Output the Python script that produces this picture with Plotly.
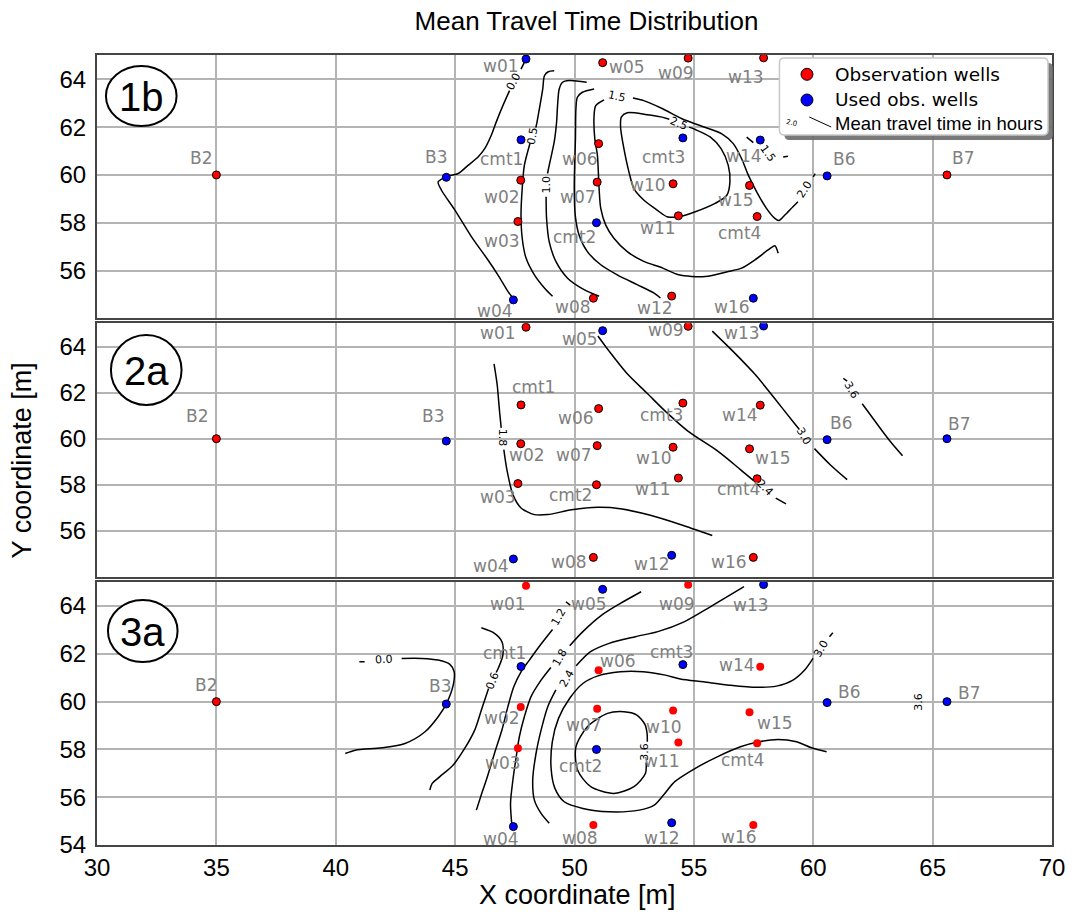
import plotly.graph_objects as go
from plotly.subplots import make_subplots

# ---------------------------------------------------------------- wells
well_names = ["B2", "B3", "B6", "B7",
              "w01", "w02", "w03", "w04", "w05", "w06", "w07", "w08",
              "w09", "w10", "w11", "w12", "w13", "w14", "w15", "w16",
              "cmt1", "cmt2", "cmt3", "cmt4"]
well_x = [35.00, 44.63, 60.58, 65.60,
          47.97, 47.75, 47.63, 47.44, 51.18, 51.01, 50.95, 50.79,
          54.76, 54.13, 54.35, 54.07, 57.92, 57.78, 57.33, 57.49,
          47.76, 50.92, 54.54, 57.65]
well_y = [60.00, 59.90, 59.96, 60.00,
          64.85, 59.78, 58.05, 54.77, 64.70, 61.31, 59.70, 54.84,
          64.89, 59.63, 58.29, 54.93, 64.90, 61.46, 59.56, 54.84,
          61.47, 58.00, 61.55, 58.26]

# wells used in each scenario (the rest are plain observation wells)
used_1b = ["B3", "B6", "w01", "w04", "w14", "w16", "cmt1", "cmt2", "cmt3"]
used_2a = ["B3", "B6", "B7", "w04", "w05", "w12", "w13"]
used_3a = ["B3", "B6", "B7", "w04", "w05", "w12", "w13", "cmt1", "cmt2", "cmt3"]

# ------------------------------------------- mean travel time isolines
# points (x, y); None marks the gap left for an inline label
iso_1b_00 = [(47.90, 64.71), (47.76, 64.43), None, (47.28, 63.53), (47.00, 62.90),
             (46.72, 62.21), (46.51, 61.65), (46.24, 61.10), (45.96, 60.75), (45.54, 60.40),
             (45.13, 60.06), (44.71, 59.95), (44.29, 59.71), (44.43, 59.36), (44.99, 58.53),
             (45.68, 57.42), (46.37, 56.45), (46.79, 55.82), (47.21, 55.13), (47.42, 54.85)]
iso_1b_05 = [(49.15, 64.36), (48.90, 64.32), (48.74, 64.15), (48.67, 63.60), (48.53, 62.77),
             (48.43, 62.21), (48.38, 61.98), None, (48.14, 61.34), (47.90, 60.40),
             (47.81, 59.43), (47.76, 58.32), (47.81, 57.35), (47.97, 56.52), (48.32, 55.82),
             (48.74, 55.27), (49.08, 54.92)]
iso_1b_10 = [(50.51, 63.88), (49.78, 63.95), (49.50, 63.88), (49.36, 63.60), (49.29, 62.90),
             (49.25, 62.21), (49.15, 61.38), (48.94, 60.40), (48.87, 60.06), None,
             (48.81, 59.09), (48.83, 58.18), (48.94, 57.21), (49.22, 56.38), (49.71, 55.68),
             (50.40, 55.20), (51.03, 54.92)]
iso_1b_15a = [(50.82, 63.60), (50.33, 63.46), (50.12, 63.25), (50.06, 62.77), (50.04, 61.52),
              (50.01, 60.54), (49.99, 59.43), (50.03, 58.32), (50.19, 57.49), (50.54, 56.79),
              (51.10, 56.24), (51.79, 55.82), (52.62, 55.41), (53.32, 55.06), (53.60, 54.85)]
iso_1b_15b = [(51.24, 63.14), (50.89, 62.90), (50.82, 62.49), (50.85, 61.52), (50.96, 60.82),
              (51.03, 59.43), (51.10, 58.60), (51.31, 57.90), (51.65, 57.35), (52.21, 56.79),
              (52.90, 56.38), (53.70, 56.10), (54.36, 55.82), (55.47, 55.75), (56.44, 55.96),
              (57.00, 56.10), (57.56, 56.45), (58.11, 56.86), (58.39, 57.04), (58.53, 56.72),
              None,
              (52.45, 63.22), (52.90, 63.11), (53.67, 62.78), (54.50, 62.35), (55.33, 62.04),
              (56.17, 61.72), (56.65, 61.31), (57.00, 60.68), (57.28, 59.99), (57.63, 59.29),
              (58.04, 58.60), (58.39, 58.18), (58.56, 58.09), (58.81, 58.32), (59.15, 58.67),
              (59.36, 58.88), None, (60.00, 59.92), (60.08, 60.06)]
iso_1b_25 = [(53.67, 62.42), (53.04, 62.52), (52.21, 62.60), (51.96, 62.42), (51.93, 62.00),
             (52.07, 61.10), (52.28, 60.13), (52.49, 59.43), (52.90, 58.95), (53.46, 58.53),
             (53.88, 58.25), (54.36, 58.25), (55.06, 58.46), (55.89, 58.81), (56.38, 59.15),
             (56.51, 59.71), (56.44, 60.40), (56.14, 61.10), (55.68, 61.59), (55.06, 61.90),
             (54.80, 62.00), None, (53.97, 62.33), (53.67, 62.42)]
iso_1b_frag = [(57.21, 61.58), (57.49, 61.35), None, (58.74, 60.75), (58.94, 60.78)]

iso_2a_18 = [(46.63, 63.26), (46.76, 62.36), (46.86, 61.20), (46.93, 60.47), None,
             (47.04, 59.53), (47.18, 58.59), (47.42, 57.57), (47.76, 56.99), (48.32, 56.70),
             (48.88, 56.70), (49.88, 56.91), (50.98, 57.02), (51.92, 56.96), (53.18, 56.67),
             (54.43, 56.27), (55.77, 55.79)]
iso_2a_24 = [(50.98, 64.47), (51.45, 63.81), (52.24, 62.79), (53.02, 62.00), (53.80, 61.20),
             (54.75, 60.33), (56.00, 59.46), (56.95, 58.66), (57.49, 58.19), None,
             (58.43, 57.42), (58.86, 57.17)]
iso_2a_30 = [(55.77, 64.68), (56.63, 63.81), (57.57, 62.79), (58.36, 61.78), (59.14, 60.76),
             (59.42, 60.40), None, (60.05, 59.57), (60.71, 58.87), (61.42, 58.22)]
iso_2a_36 = [(61.26, 62.62), (61.42, 62.51), None, (62.05, 61.52), (62.59, 60.76),
             (63.22, 59.89), (63.74, 59.26)]

iso_3a_00 = [(40.99, 61.67), (41.21, 61.67), None, (42.76, 61.81), (43.60, 61.81),
             (44.29, 61.74), (44.78, 61.56), (44.96, 61.25), (44.92, 60.69), (44.64, 59.93),
             (44.29, 59.37), (43.74, 58.74), (42.90, 58.25), (41.93, 58.07), (40.82, 57.97),
             (40.40, 57.83)]
iso_3a_06 = [(46.10, 63.09), (46.65, 62.86), (46.96, 62.51), (47.00, 61.95), (46.82, 61.43),
             (46.72, 61.22), None, (46.40, 60.55), (46.10, 59.65), (45.82, 58.81),
             (45.40, 58.04), (44.92, 57.35), (44.36, 56.86), (44.04, 56.58), (43.94, 56.30)]
iso_3a_12 = [(49.64, 64.18), (49.82, 64.04), None, (49.08, 63.02), (48.60, 62.41),
             (48.11, 61.74), (47.76, 61.25), (47.46, 60.63), (47.21, 59.79), (46.96, 58.81),
             (46.65, 57.84), (46.35, 56.86), (46.07, 56.02), (45.89, 55.46)]
iso_3a_18 = [(52.79, 64.60), (51.92, 64.11), (51.14, 63.62), (50.35, 62.93), (49.80, 62.34),
             None, (49.01, 61.43), (48.60, 60.90), (48.18, 60.21), (47.90, 59.37),
             (47.69, 58.53), (47.56, 57.70), (47.42, 56.72), (47.32, 55.74), (47.38, 54.80)]
iso_3a_24 = [(57.10, 64.81), (55.69, 63.97), (54.59, 63.34), (53.49, 62.93), (52.55, 62.72),
             (51.45, 62.44), (50.67, 62.09), (50.07, 61.50), None, (49.22, 60.49),
             (48.88, 59.79), (48.60, 58.81), (48.39, 57.84), (48.25, 56.72), (48.32, 55.88),
             (48.60, 55.32), (48.94, 54.91)]
iso_3a_30 = [(60.68, 62.72), (60.82, 62.88), None, (59.99, 61.81), (59.64, 61.32),
             (59.15, 60.90), (58.46, 60.65), (57.62, 60.60), (56.51, 60.69), (55.40, 60.83),
             (54.43, 60.95), (53.81, 61.11), (52.87, 61.25), (51.92, 61.25), (50.98, 61.08),
             (50.35, 60.76), (49.80, 60.14), (49.33, 59.30), (49.07, 58.32), (49.02, 57.21),
             (49.18, 56.37), (49.57, 55.81), (50.35, 55.53), (51.45, 55.39), (52.71, 55.46),
             (53.34, 55.67), (53.73, 56.09), (54.20, 56.65), (55.06, 57.21), (56.00, 57.70),
             (56.95, 58.11), (57.73, 58.32), (58.52, 58.42), (59.30, 58.32), (59.93, 58.07),
             (60.56, 57.90)]
iso_3a_36 = [(53.00, 57.45), (52.97, 56.99), (52.49, 56.44), (51.65, 56.16), (50.68, 56.44),
             (50.13, 57.14), (50.06, 58.11), (50.54, 58.95), (51.38, 59.51), (52.07, 59.58),
             (52.60, 59.45), (52.95, 59.05), (53.04, 58.67), (53.05, 58.32)]

# inline isoline labels: (text, x, y)
iso_labels_1b = [("0.0", 47.46, 63.90), ("0.5", 48.24, 61.66), ("1.0", 48.83, 59.58),
                 ("1.5", 51.80, 63.30), ("2.5", 54.36, 62.16), ("2.0", 59.64, 59.38),
                 ("1.5", 58.10, 60.90)]
iso_labels_2a = [("1.8", 46.97, 60.04), ("2.4", 57.96, 57.86), ("3.0", 59.61, 60.11),
                 ("3.6", 61.60, 62.08)]
iso_labels_3a = [("0.0", 42.00, 61.77), ("0.6", 46.56, 60.90), ("1.2", 49.36, 63.55),
                 ("1.8", 49.39, 61.85), ("2.4", 49.68, 60.97), ("3.0", 60.33, 62.23),
                 ("3.6", 52.95, 57.90), ("3.6", 64.43, 60.00)]

x_ticks = [30, 35, 40, 45, 50, 55, 60, 65, 70]

# ------------------------------------------------------------ layout aids
# label rotations (degrees, clockwise) for the inline isoline labels
iso_angles_1b = [-62, -80, -90, 12, 22, -58, 55]
iso_angles_2a = [90, 45, 60, 60]
iso_angles_3a = [-3, -70, -60, -60, -60, -60, -90, -90]

# well-name label offsets in pixels (dx right, dy down), in well_names order
lbl_off_1b = [(-15, -17), (-10, -20), (17, -17), (16, -17),
              (-25, 7), (-19, 17), (-16, 19), (-18, 11), (24, 4), (-19, 15), (-19, 15), (-20, 9),
              (-12, 15), (-25, 1), (-20, 12), (-17, 12), (-18, 19), (-16, 16), (-14, 15), (-21, 9),
              (-20, 19), (-22, 14), (-19, 19), (-18, 16)]
lbl_off_2a = [(-19, -23), (-13, -25), (14, -17), (12, -15),
              (-28, 6), (6, 11), (-20, 13), (-22, 7), (-23, 8), (-23, 9), (-23, 9), (-24, 5),
              (-22, 4), (-19, 11), (-25, 11), (-20, 9), (-22, 7), (-20, 10), (23, 9), (-24, 5),
              (12, -18), (-26, 10), (-21, 12), (-19, 10)]
lbl_off_3a = [(-10, -17), (-6, -18), (22, -11), (22, -9),
              (-18, 18), (-19, 11), (-15, 15), (-12, 12), (-14, 15), (19, -9), (-13, 16), (-13, 13),
              (-11, 19), (-9, 17), (-16, 18), (-10, 15), (-13, 20), (-23, -2), (25, 11), (-14, 12),
              (-17, -14), (-16, 17), (-11, -13), (-15, 17)]

RED = "#ff0000"
BLUE = "#0000ff"
GRID = "#b4b4b4"
FRAME = "#454545"
LABEL_GREY = "#808080"
SANS = "Liberation Sans, Arial, sans-serif"
WIDE = "DejaVu Sans, Verdana, sans-serif"

# plot area in pixels: x 97..1057, y 55..845
L, R, T, B = 97, 20, 55, 70
W, H = 1077, 915
PW, PH = W - L - R, H - T - B


def px(v):
    return (v - L) / PW


def py(v):
    return (H - B - v) / PH


fig = make_subplots(rows=3, cols=1, shared_xaxes=True, vertical_spacing=0.01)

panels = [
    (1, used_1b, [iso_1b_00, iso_1b_05, iso_1b_10, iso_1b_15a, iso_1b_15b, iso_1b_25, iso_1b_frag],
     iso_labels_1b, iso_angles_1b, lbl_off_1b, True),
    (2, used_2a, [iso_2a_18, iso_2a_24, iso_2a_30, iso_2a_36],
     iso_labels_2a, iso_angles_2a, lbl_off_2a, True),
    (3, used_3a, [iso_3a_00, iso_3a_06, iso_3a_12, iso_3a_18, iso_3a_24, iso_3a_30, iso_3a_36],
     iso_labels_3a, iso_angles_3a, lbl_off_3a, False),
]

annotations = []
for row, used, isolines, iso_lbls, iso_ang, offsets, red_edge in panels:
    xref = "x" if row == 1 else f"x{row}"
    yref = "y" if row == 1 else f"y{row}"
    for line in isolines:
        xs = [p[0] if p is not None else None for p in line]
        ys = [p[1] if p is not None else None for p in line]
        fig.add_trace(go.Scatter(x=xs, y=ys, mode="lines", showlegend=False,
                                 line=dict(color="black", width=1.5, shape="spline", smoothing=0.8),
                                 connectgaps=False, hoverinfo="skip"), row=row, col=1)
    obs = [i for i, n in enumerate(well_names) if n not in used]
    use = [i for i, n in enumerate(well_names) if n in used]
    obs_edge = [1 if (red_edge or well_names[i] == "B2") else 0 for i in obs]
    fig.add_trace(go.Scatter(x=[well_x[i] for i in obs], y=[well_y[i] for i in obs],
                             mode="markers", showlegend=False, hoverinfo="skip",
                             marker=dict(color=RED, size=8, line=dict(color="black", width=obs_edge))),
                  row=row, col=1)
    fig.add_trace(go.Scatter(x=[well_x[i] for i in use], y=[well_y[i] for i in use],
                             mode="markers", showlegend=False, hoverinfo="skip",
                             marker=dict(color=BLUE, size=8, line=dict(color="black", width=1))),
                  row=row, col=1)
    for i, name in enumerate(well_names):
        dx, dy = offsets[i]
        annotations.append(dict(x=well_x[i], y=well_y[i], xref=xref, yref=yref, text=name,
                                showarrow=False, xshift=dx, yshift=-dy,
                                xanchor="center", yanchor="middle",
                                font=dict(family=WIDE, size=17, color=LABEL_GREY)))
    for (txt, lx, ly), ang in zip(iso_lbls, iso_ang):
        annotations.append(dict(x=lx, y=ly, xref=xref, yref=yref, text=txt, showarrow=False,
                                textangle=ang, xanchor="center", yanchor="middle",
                                font=dict(family=WIDE, size=11, color="black")))

# scenario badges
badges = [("1b", 106, 66, 177, 126), ("2a", 111, 335, 182, 405), ("3a", 108, 600, 178, 662)]
shapes = []
for txt, x0, y0, x1, y1 in badges:
    shapes.append(dict(type="circle", xref="paper", yref="paper",
                       x0=px(x0), x1=px(x1), y0=py(y1), y1=py(y0),
                       line=dict(color="black", width=2), fillcolor="white"))
    annotations.append(dict(x=px((x0 + x1) / 2), y=py((y0 + y1) / 2 + 1), xref="paper", yref="paper",
                            text=txt, showarrow=False, xanchor="center", yanchor="middle",
                            font=dict(family=SANS, size=40, color="black")))


def rounded_box(x0, y0, x1, y1, r):
    """SVG path of a rounded rectangle given in pixel coordinates."""
    rx, ry = r / PW, r / PH
    a, b, c, d = px(x0), px(x1), py(y1), py(y0)
    return (f"M {a + rx},{c} L {b - rx},{c} Q {b},{c} {b},{c + ry} "
            f"L {b},{d - ry} Q {b},{d} {b - rx},{d} L {a + rx},{d} Q {a},{d} {a},{d - ry} "
            f"L {a},{c + ry} Q {a},{c} {a + rx},{c} Z")


# legend with drop shadow
shapes.append(dict(type="path", xref="paper", yref="paper", path=rounded_box(788, 63, 1058, 140, 5),
                   fillcolor="#6a6a6a", line=dict(width=0), opacity=0.9))
shapes.append(dict(type="path", xref="paper", yref="paper", path=rounded_box(783, 58, 1053, 135, 5),
                   fillcolor="white", line=dict(color="#c8c8c8", width=1.5)))
for cy, col in [(74.3, RED), (100, BLUE)]:
    shapes.append(dict(type="circle", xref="paper", yref="paper",
                       x0=px(804.7), x1=px(816.7), y0=py(cy + 6), y1=py(cy - 6),
                       fillcolor=col, line=dict(color="black", width=1)))
shapes.append(dict(type="line", xref="paper", yref="paper", x0=px(813), y0=py(117), x1=px(835), y1=py(127),
                   line=dict(color="black", width=1)))
annotations.append(dict(x=px(804), y=py(116), xref="paper", yref="paper", text="2.0", showarrow=False,
                        textangle=12, font=dict(family=WIDE, size=7, color="black")))
for txt, cy, fam, size in [("Observation wells", 74.3, WIDE, 18.5), ("Used obs. wells", 100, WIDE, 18.5),
                           ("Mean travel time in hours", 123, SANS, 18.5)]:
    annotations.append(dict(x=px(837), y=py(cy), xref="paper", yref="paper", text=txt, showarrow=False,
                            xanchor="left", yanchor="middle", font=dict(family=fam, size=size, color="black")))

# axis titles
annotations.append(dict(x=px(580), y=py(895), xref="paper", yref="paper", text="X coordinate [m]",
                        showarrow=False, xanchor="center", yanchor="middle",
                        font=dict(family=SANS, size=27, color="black")))
annotations.append(dict(x=px(22), y=py(460), xref="paper", yref="paper", text="Y coordinate [m]",
                        showarrow=False, textangle=-90, xanchor="center", yanchor="middle",
                        font=dict(family=SANS, size=27, color="black")))

axis_common = dict(showgrid=True, gridcolor=GRID, gridwidth=1.6, zeroline=False,
                   showline=True, mirror=True, linecolor=FRAME, linewidth=2, ticks="",
                   tickfont=dict(family=SANS, size=24, color="black"))

domains = [[(H - B - 318.3) / PH, 1.0], [(H - B - 576.7) / PH, (H - B - 323.3) / PH], [0.0, (H - B - 581.7) / PH]]
y_ticks = [[56, 58, 60, 62, 64], [56, 58, 60, 62, 64], [54, 56, 58, 60, 62, 64]]
for k in range(3):
    sfx = "" if k == 0 else str(k + 1)
    fig.layout["xaxis" + sfx].update(range=[30, 70], tickvals=x_ticks, showticklabels=(k == 2),
                                     ticklabelstandoff=0, **axis_common)
    fig.layout["yaxis" + sfx].update(range=[54, 65.02], tickvals=y_ticks[k], domain=domains[k],
                                     ticklabelstandoff=4, **axis_common)

fig.update_layout(
    width=W, height=H,
    margin=dict(l=L, r=R, t=T, b=B),
    paper_bgcolor="white", plot_bgcolor="white",
    title=dict(text="Mean Travel Time Distribution", x=586.5 / W, xanchor="center",
               y=1 - 21 / H, yanchor="middle", font=dict(family=SANS, size=26, color="black")),
    showlegend=False,
    shapes=shapes,
    annotations=annotations,
)

fig.write_html("out.html")
